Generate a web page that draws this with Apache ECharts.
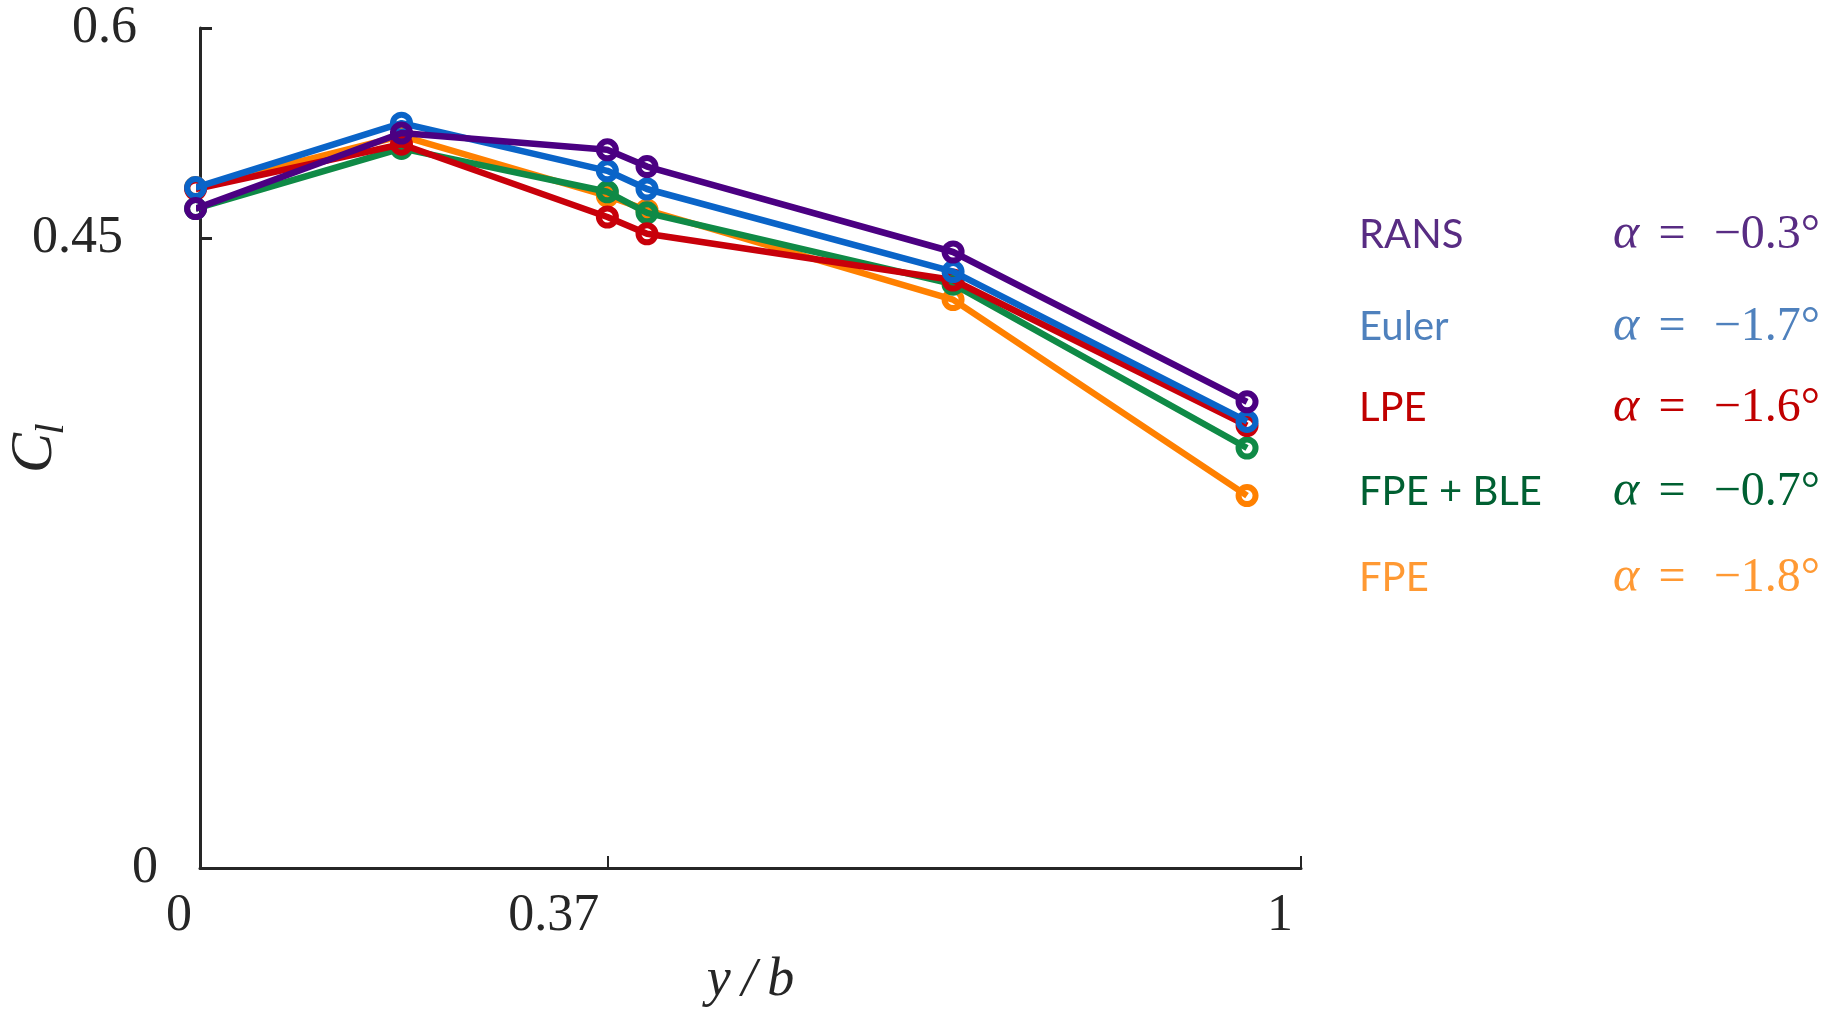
<!DOCTYPE html>
<html>
<head>
<meta charset="utf-8">
<script src="https://cdn.jsdelivr.net/npm/echarts@6/dist/echarts.min.js"></script>
<style>
  html, body { margin: 0; padding: 0; background: #fff; }
  #main { width: 1841px; height: 1016px; }
</style>
</head>
<body>
<div id="main"></div>
<script>
// spanwise stations y/b
const span = [-0.004, 0.183, 0.37, 0.406, 0.684, 0.951];

// sectional lift coefficient per method
const rans   = [0.471, 0.525, 0.513, 0.501, 0.440, 0.333];
const euler  = [0.486, 0.532, 0.498, 0.485, 0.426, 0.319];
const lpe    = [0.485, 0.517, 0.465, 0.453, 0.420, 0.316];
const fpeBle = [0.471, 0.514, 0.483, 0.468, 0.417, 0.300];
const fpe    = [0.486, 0.523, 0.480, 0.470, 0.406, 0.266];

const seriesNames = ['RANS', 'Euler', 'LPE', 'FPE + BLE', 'FPE'];
const angles = ['\u22120.3\u00b0', '\u22121.7\u00b0', '\u22121.6\u00b0', '\u22120.7\u00b0', '\u22121.8\u00b0'];
const yTicks = [0, 0.45, 0.6];
const xTicks = [0, 0.37, 1];

const lineColors = ['#4b0082', '#0a64c8', '#c8000a', '#0f8a46', '#ff8000'];
const textColors = ['#582c83', '#4f81bd', '#c00000', '#006032', '#ff9933'];
const allValues = [rans, euler, lpe, fpeBle, fpe];

const axisColor = '#262626';
const serif = 'Liberation Serif';

const chart = echarts.init(document.getElementById('main'));

// draw bottom-most first so RANS ends up on top
const series = [];
for (let i = allValues.length - 1; i >= 0; i--) {
  series.push({
    name: seriesNames[i],
    type: 'line',
    data: span.map((x, j) => [x, allValues[i][j]]),
    symbol: 'circle',
    symbolSize: 17,
    clip: false,
    z: 10 - i,
    lineStyle: { color: lineColors[i], width: 6.5 },
    itemStyle: { color: 'rgba(255,255,255,0)', borderColor: lineColors[i], borderWidth: 6 },
    emphasis: { disabled: true }
  });
}

// legend-like labels on the right
const rowY = [235, 327, 408, 492, 578];
const graphic = [];
seriesNames.forEach((name, i) => {
  graphic.push({
    type: 'text', x: 1359, y: rowY[i],
    style: { text: name, fontFamily: 'Lato', fontSize: 40, fill: textColors[i], align: 'left', verticalAlign: 'middle' }
  });
  graphic.push({
    type: 'text', x: 1613, y: rowY[i],
    style: { text: '\u03b1', fontFamily: serif, fontStyle: 'italic', fontSize: 50, fill: textColors[i], align: 'left', verticalAlign: 'middle' }
  });
  graphic.push({
    type: 'text', x: 1672, y: rowY[i],
    style: { text: '=', fontFamily: serif, fontSize: 48, fill: textColors[i], align: 'center', verticalAlign: 'middle' }
  });
  graphic.push({
    type: 'text', x: 1820, y: rowY[i],
    style: { text: angles[i], fontFamily: serif, fontSize: 48, fill: textColors[i], align: 'right', verticalAlign: 'middle' }
  });
});
// y axis name C_l
graphic.push({
  type: 'text', x: 35, y: 453, rotation: Math.PI / 2,
  style: { text: 'C', fontFamily: serif, fontStyle: 'italic', fontSize: 60, fill: axisColor, align: 'center', verticalAlign: 'middle' }
});
graphic.push({
  type: 'text', x: 52, y: 429, rotation: Math.PI / 2,
  style: { text: 'l', fontFamily: serif, fontStyle: 'italic', fontSize: 40, fill: axisColor, align: 'center', verticalAlign: 'middle' }
});

const option = {
  animation: false,
  backgroundColor: '#fff',
  grid: { left: 200, right: 540, top: 28, bottom: 148 },
  xAxis: {
    type: 'value',
    min: 0,
    max: 1,
    name: 'y\u2009/\u2009b',
    nameLocation: 'middle',
    nameGap: 86,
    nameTextStyle: { fontFamily: serif, fontStyle: 'italic', fontSize: 54, color: axisColor },
    axisLine: { show: true, lineStyle: { color: axisColor, width: 3 } },
    axisTick: { show: true, inside: true, length: 12, customValues: [0.37, 1], lineStyle: { color: axisColor, width: 2 } },
    axisLabel: {
      customValues: xTicks,
      fontFamily: serif, fontSize: 52, color: axisColor,
      align: 'right', padding: [0, 8, 0, 0], margin: 22, lineHeight: 52,
      formatter: v => String(v)
    },
    splitLine: { show: false }
  },
  yAxis: {
    type: 'value',
    min: 0,
    max: 0.6,
    axisLine: { show: true, lineStyle: { color: axisColor, width: 3 } },
    axisTick: { show: true, inside: true, length: 12, customValues: yTicks, lineStyle: { color: axisColor, width: 3 } },
    axisLabel: {
      customValues: yTicks,
      margin: 42,
      formatter: v => v === 0 ? '{z|0}' : (Math.abs(v - 0.45) < 1e-9 ? '{m|0.45}' : '{t|0.6}'),
      rich: {
        z: { fontFamily: serif, fontSize: 52, color: axisColor },
        m: { fontFamily: serif, fontSize: 52, color: axisColor, padding: [0, 35, 0, 0] },
        t: { fontFamily: serif, fontSize: 52, color: axisColor, padding: [0, 21, 0, 0] }
      }
    },
    splitLine: { show: false }
  },
  graphic: graphic,
  series: series
};

chart.setOption(option);
</script>
</body>
</html>
